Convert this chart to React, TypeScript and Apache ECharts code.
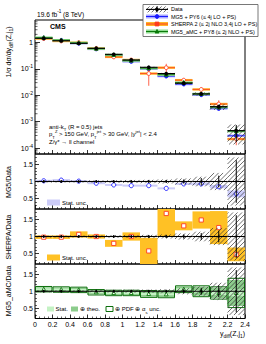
import React, { useEffect, useRef } from "react";
import * as echarts from "echarts";

const FONT = "Liberation Sans, Arial, Helvetica, sans-serif";

// ---- data ----
const binLow = [0.0, 0.2, 0.4, 0.6, 0.8, 1.0, 1.2, 1.4, 1.6, 1.8, 2.0, 2.2];
const binHigh = [0.2, 0.4, 0.6, 0.8, 1.0, 1.2, 1.4, 1.6, 1.8, 2.0, 2.2, 2.4];
const dataXsec = [1.42, 1.15, 0.917, 0.594, 0.352, 0.215, 0.114, 0.066, 0.0284, 0.0112, 0.0037, 0.00046];
const dataStatRel = [0.01, 0.01, 0.012, 0.015, 0.02, 0.025, 0.03, 0.04, 0.06, 0.1, 0.17, 0.62];
const dataTotalRel = [0.03, 0.03, 0.03, 0.035, 0.04, 0.045, 0.05, 0.06, 0.09, 0.14, 0.25, 0.7];

const mg5Ratio = [1.02, 1.04, 1.01, 0.95, 0.9, 0.88, 0.88, 0.8, 0.93, 0.93, 0.85, 0.64];
const mg5Stat = [0.01, 0.01, 0.012, 0.015, 0.015, 0.02, 0.02, 0.025, 0.03, 0.04, 0.05, 0.1];

const sherpaRatio = [0.98, 0.98, 1.06, 1.0, 0.8, 1.0, 0.58, 1.67, 1.31, 1.48, 1.26, 0.48];
const sherpaStat = [0.05, 0.05, 0.09, 0.06, 0.1, 0.12, 0.38, 0.67, 0.13, 0.25, 0.48, 0.2];

const amcRatio = [1.06, 1.05, 1.04, 0.97, 0.95, 0.95, 0.92, 0.91, 1.06, 1.0, 0.95, 0.95];
const amcStat = [0.01, 0.01, 0.01, 0.012, 0.015, 0.02, 0.02, 0.025, 0.03, 0.04, 0.06, 0.1];
const amcTheo = [0.06, 0.06, 0.06, 0.06, 0.06, 0.06, 0.08, 0.08, 0.08, 0.13, 0.15, 0.38];
const amcTotal = [0.08, 0.08, 0.08, 0.08, 0.08, 0.08, 0.1, 0.1, 0.1, 0.16, 0.18, 0.43];

const logMinorValues = [7e-5, 8e-5, 9e-5,
  2e-4, 3e-4, 4e-4, 5e-4, 6e-4, 7e-4, 8e-4, 9e-4,
  2e-3, 3e-3, 4e-3, 5e-3, 6e-3, 7e-3, 8e-3, 9e-3,
  2e-2, 3e-2, 4e-2, 5e-2, 6e-2, 7e-2, 8e-2, 9e-2,
  0.2, 0.3, 0.4, 0.5, 0.6, 0.7, 0.8, 0.9, 2, 3, 4, 5, 6];
const ratioTickValues = [0.5, 1, 1.5];
const ratioMinorValues = [0.3, 0.4, 0.6, 0.7, 0.8, 0.9, 1.1, 1.2, 1.3, 1.4, 1.6, 1.7];

const legendLabels = [
  "Data",
  "MG5 + PY6 (\u2264 4j LO + PS)",
  "SHERPA 2 (\u2264 2j NLO 3,4j LO + PS)",
  "MG5_aMC + PY8 (\u2264 2j NLO + PS)",
];

// ---- colours ----
const C = {
  mg5Line: "#1a1aff",
  mg5Band: "#a8a8ff",
  mg5RatioBand: "#ccccf8",
  shLine: "#ff3c1e",
  shBand: "#ffb428",
  shRatioBand: "#ffc125",
  amcLine: "#0a7a0a",
  amcBand: "#90dc90",
  amcStat: "#c4f2c4",
  amcTheo: "#8ccc8c",
  amcEdge: "#0b6e0b",
  hatch: "#333333",
};

const idx = binLow.map((_, i) => i);
const mainDataRows = idx.map((i) => [binLow[i], binHigh[i], dataXsec[i], dataStatRel[i], dataTotalRel[i]]);
const ratioDataRows = idx.map((i) => [binLow[i], binHigh[i], dataStatRel[i], dataTotalRel[i]]);
const mg5MainRows = idx.map((i) => [binLow[i], binHigh[i], dataXsec[i], mg5Ratio[i], mg5Stat[i]]);
const shMainRows = idx.map((i) => [binLow[i], binHigh[i], dataXsec[i], sherpaRatio[i], sherpaStat[i]]);
const amcMainRows = idx.map((i) => [binLow[i], binHigh[i], dataXsec[i], amcRatio[i], amcTotal[i]]);
const mg5RatioRows = idx.map((i) => [binLow[i], binHigh[i], mg5Ratio[i], mg5Stat[i]]);
const shRatioRows = idx.map((i) => [binLow[i], binHigh[i], sherpaRatio[i], sherpaStat[i]]);
const amcRatioRows = idx.map((i) => [binLow[i], binHigh[i], amcRatio[i], amcStat[i], amcTheo[i], amcTotal[i]]);
const logMinorRows = logMinorValues.map((v) => [0, v]);

// ---- helpers ----
function hatch(x0: number, y0: number, x1: number, y1: number, step = 4.5, color = C.hatch, lw = 0.7) {
  const out: any[] = [];
  if (x1 - x0 <= 0 || y1 - y0 <= 0) return out;
  const cStart = Math.ceil((x0 + y0) / step) * step;
  for (let c = cStart; c <= x1 + y1; c += step) {
    const xa = Math.max(x0, c - y1);
    const xb = Math.min(x1, c - y0);
    if (xb > xa) {
      out.push({ type: "line", shape: { x1: xa, y1: c - xa, x2: xb, y2: c - xb }, style: { stroke: color, lineWidth: lw } });
    }
  }
  return out;
}
const clampY = (y: number, cs: any) => Math.max(cs.y, Math.min(cs.y + cs.height, y));

function markerEl(kind: string, cx: number, cy: number, color: string, filled: boolean, size = 2.2) {
  const style = { stroke: color, lineWidth: 0.9, fill: filled ? color : "#fff" };
  if (kind === "circle") return { type: "circle", shape: { cx, cy, r: size }, style };
  if (kind === "square") return { type: "rect", shape: { x: cx - size, y: cy - size, width: 2 * size, height: 2 * size }, style };
  return {
    type: "polygon",
    shape: { points: [[cx, cy - size * 1.1], [cx - size, cy + size * 0.8], [cx + size, cy + size * 0.8]] },
    style,
  };
}

function renderMainData(params: any, api: any) {
  const cs = params.coordSys;
  const lo = api.value(0), hi = api.value(1), v = api.value(2), s = api.value(3), t = api.value(4);
  const c = (lo + hi) / 2;
  const [xl, yv] = api.coord([lo, v]);
  const [xr] = api.coord([hi, v]);
  const [xc] = api.coord([c, v]);
  const yT = clampY(api.coord([c, v * (1 + t)])[1], cs);
  const yB = clampY(api.coord([c, v * (1 - t)])[1], cs);
  const ysT = clampY(api.coord([c, v * (1 + s)])[1], cs);
  const ysB = clampY(api.coord([c, v * (1 - s)])[1], cs);
  return {
    type: "group",
    children: [
      ...hatch(xl, yT, xr, yB),
      { type: "line", shape: { x1: xl, y1: yv, x2: xr, y2: yv }, style: { stroke: "#000", lineWidth: 1.1 } },
      { type: "line", shape: { x1: xc, y1: ysT, x2: xc, y2: ysB }, style: { stroke: "#000", lineWidth: 1 } },
      { type: "circle", shape: { cx: xc, cy: yv, r: 1.9 }, style: { fill: "#000" } },
    ],
  };
}

function makeMainModel(line: string, band: string, marker: string, filled: boolean) {
  return (params: any, api: any) => {
    const cs = params.coordSys;
    const lo = api.value(0), hi = api.value(1), d = api.value(2), r = api.value(3), u = api.value(4);
    const c = (lo + hi) / 2;
    const v = d * r;
    const [xl, yv] = api.coord([lo, v]);
    const [xr] = api.coord([hi, v]);
    const [xc] = api.coord([c, v]);
    const yT = clampY(api.coord([c, d * (r + u)])[1], cs);
    const yB = clampY(api.coord([c, d * Math.max(r - u, 0.05)])[1], cs);
    return {
      type: "group",
      children: [
        { type: "rect", shape: { x: xl, y: yv - 1.2, width: xr - xl, height: 2.4 }, style: { fill: band } },
        { type: "line", shape: { x1: xl, y1: yv, x2: xr, y2: yv }, style: { stroke: line, lineWidth: 0.8 } },
        { type: "line", shape: { x1: xc, y1: yT, x2: xc, y2: yB }, style: { stroke: line, lineWidth: 0.8 } },
        markerEl(marker, xc, yv, line, filled, 1.9),
      ],
    };
  };
}

function renderRatioData(params: any, api: any) {
  const cs = params.coordSys;
  const lo = api.value(0), hi = api.value(1), s = api.value(2), t = api.value(3);
  const c = (lo + hi) / 2;
  const [xl, y1] = api.coord([lo, 1]);
  const [xr] = api.coord([hi, 1]);
  const [xc] = api.coord([c, 1]);
  const yT = clampY(api.coord([c, 1 + t])[1], cs);
  const yB = clampY(api.coord([c, 1 - t])[1], cs);
  const ysT = clampY(api.coord([c, 1 + s])[1], cs);
  const ysB = clampY(api.coord([c, 1 - s])[1], cs);
  return {
    type: "group",
    children: [
      ...hatch(xl, yT, xr, yB),
      { type: "line", shape: { x1: xl, y1: y1, x2: xr, y2: y1 }, style: { stroke: "#000", lineWidth: 1.1 } },
      { type: "line", shape: { x1: xc, y1: Math.min(ysT, y1 - 1.5), x2: xc, y2: Math.max(ysB, y1 + 1.5) }, style: { stroke: "#000", lineWidth: 1 } },
      { type: "circle", shape: { cx: xc, cy: y1, r: 1.1 }, style: { fill: "#000" } },
    ],
  };
}

function makeRatioModel(line: string, band: string, marker: string) {
  return (params: any, api: any) => {
    const cs = params.coordSys;
    const lo = api.value(0), hi = api.value(1), r = api.value(2), u = api.value(3);
    const c = (lo + hi) / 2;
    const [xl, yv] = api.coord([lo, r]);
    const [xr] = api.coord([hi, r]);
    const [xc] = api.coord([c, r]);
    let yT = api.coord([c, r + u])[1];
    let yB = api.coord([c, r - u])[1];
    if (yB - yT < 2) { yT = yv - 1; yB = yv + 1; }
    yT = clampY(yT, cs); yB = clampY(yB, cs);
    return {
      type: "group",
      children: [
        { type: "rect", shape: { x: xl, y: yT, width: xr - xl, height: yB - yT }, style: { fill: band } },
        markerEl(marker, xc, yv, line, false, 2.1),
      ],
    };
  };
}

function renderAmcRatio(params: any, api: any) {
  const cs = params.coordSys;
  const lo = api.value(0), hi = api.value(1), r = api.value(2);
  const s = api.value(3), th = api.value(4), tot = api.value(5);
  const c = (lo + hi) / 2;
  const [xl, yv] = api.coord([lo, r]);
  const [xr] = api.coord([hi, r]);
  const [xc] = api.coord([c, r]);
  const box = (u: number) => {
    let yT = api.coord([c, r + u])[1];
    let yB = api.coord([c, r - u])[1];
    if (yB - yT < 2) { yT = yv - 1; yB = yv + 1; }
    return [clampY(yT, cs), clampY(yB, cs)];
  };
  const [tT, tB] = box(tot);
  const [hT, hB] = box(th);
  const [sT, sB] = box(s);
  return {
    type: "group",
    children: [
      { type: "rect", shape: { x: xl, y: hT, width: xr - xl, height: hB - hT }, style: { fill: C.amcTheo } },
      { type: "rect", shape: { x: xl, y: sT, width: xr - xl, height: sB - sT }, style: { fill: C.amcStat } },
      { type: "rect", shape: { x: xl + 0.5, y: tT, width: xr - xl - 1, height: tB - tT }, style: { fill: "none", stroke: C.amcEdge, lineWidth: 1 } },
      markerEl("triangle", xc, yv, C.amcLine, false, 1.9),
    ],
  };
}

function renderLogMinor(params: any, api: any) {
  const [x, y] = api.coord([api.value(0), api.value(1)]);
  return { type: "line", shape: { x1: x, y1: y, x2: x + 2.5, y2: y }, style: { stroke: "#000", lineWidth: 0.6 } };
}

function custom(gridIdx: number, data: number[][], renderItem: any) {
  return {
    type: "custom",
    xAxisIndex: gridIdx,
    yAxisIndex: gridIdx === 0 ? 0 : gridIdx * 2 - 1,
    data,
    renderItem,
    clip: true,
    silent: true,
    animation: false,
  };
}

// ---- graphic overlay (texts and legends) ----
function txt(x: number, y: number, text: string, size: number, extra: any = {}, rich: any = undefined, rotation = 0) {
  return {
    type: "text",
    x,
    y,
    rotation,
    z: 100,
    style: {
      text,
      fontSize: size,
      fontFamily: FONT,
      fill: "#000",
      align: extra.align || "left",
      verticalAlign: "middle",
      fontWeight: extra.fontWeight || "normal",
      rich,
    },
  };
}

function richSet(base: number) {
  return {
    b: { fontSize: base, fontFamily: FONT, lineHeight: base + 4, verticalAlign: "middle", fill: "#000" },
    sub: { fontSize: base * 0.7, fontFamily: FONT, lineHeight: base * 0.7, verticalAlign: "bottom", fill: "#000" },
    sup: { fontSize: base * 0.7, fontFamily: FONT, lineHeight: base * 0.7, verticalAlign: "top", fill: "#000" },
  };
}

function buildGraphics() {
  const g: any[] = [];
  g.push({ type: "rect", z: 90, shape: { x: 143, y: 4.5, width: 115, height: 32 }, style: { fill: "#fff", stroke: "#555", lineWidth: 0.8 } });
  const rows = [9.4, 16.5, 24, 31.5];
  const sx0 = 146, sx1 = 168, sxc = 157;
  hatch(sx0, rows[0] - 3, sx1, rows[0] + 3, 4).forEach((h) => g.push({ ...h, z: 95 }));
  g.push({ type: "line", z: 96, shape: { x1: sx0, y1: rows[0], x2: sx1, y2: rows[0] }, style: { stroke: "#000", lineWidth: 1.1 } });
  g.push({ type: "line", z: 96, shape: { x1: sxc, y1: rows[0] - 3, x2: sxc, y2: rows[0] + 3 }, style: { stroke: "#000", lineWidth: 1 } });
  g.push({ type: "circle", z: 96, shape: { cx: sxc, cy: rows[0], r: 1.8 }, style: { fill: "#000" } });
  const models = [
    { y: rows[1], line: C.mg5Line, band: C.mg5Band, m: "circle" },
    { y: rows[2], line: C.shLine, band: C.shBand, m: "square" },
    { y: rows[3], line: C.amcLine, band: C.amcBand, m: "triangle" },
  ];
  models.forEach((md) => {
    g.push({ type: "rect", z: 95, shape: { x: sx0, y: md.y - 2, width: sx1 - sx0, height: 4 }, style: { fill: md.band } });
    g.push({ type: "line", z: 96, shape: { x1: sx0, y1: md.y, x2: sx1, y2: md.y }, style: { stroke: md.line, lineWidth: 1 } });
    g.push({ ...markerEl(md.m, sxc, md.y, md.line, true, 1.9), z: 97 });
  });
  legendLabels.forEach((l, i) => g.push(txt(171, rows[i], l, 5.5)));

  g.push(txt(37, 14.5, "{b|19.6 fb}{sup|-1}{b| (8 TeV)}", 6.6, {}, richSet(6.6)));
  g.push(txt(50, 26, "CMS", 7, { fontWeight: "bold" }));
  g.push(txt(49, 126.5, "{b|anti-k}{sub|T}{b| (R = 0.5) jets}", 6, {}, richSet(6)));
  g.push(txt(49, 134, "{b|p}{sub|T}{sup|Z}{b| > 150 GeV, p}{sub|T}{sup|jet}{b| > 30 GeV, |y}{sup|jet}{b|| < 2.4}", 6, {}, richSet(6)));
  g.push(txt(49, 141.5, "{b|Z/\u03b3* \u2192 ll channel}", 6, {}, richSet(6)));

  g.push(txt(8, 52, "{b|1/\u03c3 d\u03c3/dy}{sub|diff}{b|(Z,j}{sub|1}{b|)}", 7, { align: "center" }, richSet(7), Math.PI / 2));
  g.push(txt(8, 182, "MG5/Data", 7, { align: "center" }, undefined, Math.PI / 2));
  g.push(txt(8, 237, "SHERPA/Data", 7, { align: "center" }, undefined, Math.PI / 2));
  g.push(txt(8, 291, "MG5_aMC/Data", 7, { align: "center" }, undefined, Math.PI / 2));
  g.push(txt(245, 333, "{b|y}{sub|diff}{b|(Z,j}{sub|1}{b|)}", 7, { align: "right" }, richSet(7)));

  g.push({ type: "rect", z: 95, shape: { x: 47, y: 199.5, width: 13, height: 6 }, style: { fill: C.mg5RatioBand } });
  g.push(txt(62, 202.5, "Stat. unc.", 6));
  g.push({ type: "rect", z: 95, shape: { x: 47, y: 254.5, width: 13, height: 6 }, style: { fill: C.shRatioBand } });
  g.push(txt(62, 257.5, "Stat. unc.", 6));
  g.push({ type: "rect", z: 95, shape: { x: 47, y: 306.5, width: 7, height: 5 }, style: { fill: C.amcStat } });
  g.push(txt(55.5, 309, "Stat.", 6));
  g.push({ type: "rect", z: 95, shape: { x: 71, y: 306.5, width: 7, height: 5 }, style: { fill: C.amcTheo } });
  g.push(txt(80, 309, "\u2295 theo.", 6));
  g.push({ type: "rect", z: 95, shape: { x: 106, y: 306.5, width: 7, height: 5 }, style: { fill: "#fff", stroke: C.amcEdge, lineWidth: 1 } });
  g.push(txt(115, 309, "{b|\u2295 PDF \u2295 \u03b1}{sub|s}{b| unc.}", 6, {}, richSet(6)));
  return g;
}

const grids = [
  { left: 35, top: 20, width: 210, height: 134 },
  { left: 35, top: 154, width: 210, height: 55 },
  { left: 35, top: 209, width: 210, height: 55 },
  { left: 35, top: 264, width: 210, height: 54.5 },
];

function buildOption() {
  const tickStyle = { color: "#000", width: 0.8 };
  const xAxis = grids.map((_, g) => ({
    gridIndex: g,
    type: "value",
    min: 0,
    max: 2.4,
    interval: 0.2,
    axisLine: { show: false, onZero: false },
    axisTick: { show: true, inside: true, length: 4, lineStyle: tickStyle },
    minorTick: { show: true, splitNumber: 4, length: 2, lineStyle: { color: "#000", width: 0.6 } },
    splitLine: { show: false },
    axisLabel: {
      show: g === 3,
      fontSize: 7,
      color: "#000",
      fontFamily: FONT,
      margin: 2,
      showMinLabel: true,
      showMaxLabel: true,
    },
  }));
  const yAxis: any[] = [];
  yAxis.push({
    gridIndex: 0,
    type: "log",
    logBase: 10,
    min: 6e-5,
    max: 7,
    axisLine: { show: false, onZero: false },
    splitLine: { show: false },
    axisTick: { show: true, inside: true, length: 5, lineStyle: tickStyle },
    axisLabel: {
      showMinLabel: false,
      showMaxLabel: false,
      margin: 2,
      color: "#000",
      fontFamily: FONT,
      formatter: (v: number) => {
        const e = Math.round(Math.log10(v));
        if (e === 0) return "{n|1}";
        return "{n|10}{e|" + e + "}";
      },
      rich: {
        n: { fontSize: 7, fontFamily: FONT, lineHeight: 10, verticalAlign: "middle", color: "#000" },
        e: { fontSize: 5, fontFamily: FONT, lineHeight: 5, verticalAlign: "top", color: "#000" },
      },
    },
  });
  for (let g = 1; g <= 3; g++) {
    yAxis.push({
      gridIndex: g,
      type: "value",
      min: 0.2,
      max: 1.8,
      axisLine: { show: false, onZero: false },
      splitLine: { show: false },
      axisTick: { show: true, inside: true, length: 4, lineStyle: tickStyle, customValues: ratioTickValues },
      axisLabel: { customValues: ratioTickValues, fontSize: 7, color: "#000", fontFamily: FONT, margin: 2 },
    });
    yAxis.push({
      gridIndex: g,
      type: "value",
      min: 0.2,
      max: 1.8,
      position: "left",
      axisLine: { show: false, onZero: false },
      splitLine: { show: false },
      axisLabel: { show: false },
      axisTick: { show: true, inside: true, length: 2, lineStyle: { color: "#000", width: 0.6 }, customValues: ratioMinorValues },
    });
  }

  const series = [
    custom(0, logMinorRows, renderLogMinor),
    custom(0, mg5MainRows, makeMainModel(C.mg5Line, C.mg5Band, "circle", true)),
    custom(0, shMainRows, makeMainModel(C.shLine, C.shBand, "circle", false)),
    custom(0, amcMainRows, makeMainModel(C.amcLine, C.amcBand, "triangle", true)),
    custom(0, mainDataRows, renderMainData),
    custom(1, mg5RatioRows, makeRatioModel(C.mg5Line, C.mg5RatioBand, "circle")),
    custom(1, ratioDataRows, renderRatioData),
    custom(2, shRatioRows, makeRatioModel(C.shLine, C.shRatioBand, "square")),
    custom(2, ratioDataRows, renderRatioData),
    custom(3, amcRatioRows, renderAmcRatio),
    custom(3, ratioDataRows, renderRatioData),
  ];

  return {
    animation: false,
    backgroundColor: "#fff",
    textStyle: { fontFamily: FONT },
    grid: grids.map((g) => ({ ...g, show: true, borderColor: "#000", borderWidth: 1, backgroundColor: "transparent", containLabel: false })),
    xAxis,
    yAxis,
    series,
    graphic: { elements: buildGraphics() },
  };
}

export default function App() {
  const ref = useRef<HTMLDivElement>(null);
  useEffect(() => {
    document.body.style.margin = "0";
    if (!ref.current) return;
    const chart = echarts.init(ref.current, undefined, { renderer: "svg" });
    chart.setOption(buildOption() as any);
    return () => chart.dispose();
  }, []);
  return <div ref={ref} style={{ width: 266, height: 344 }} />;
}
